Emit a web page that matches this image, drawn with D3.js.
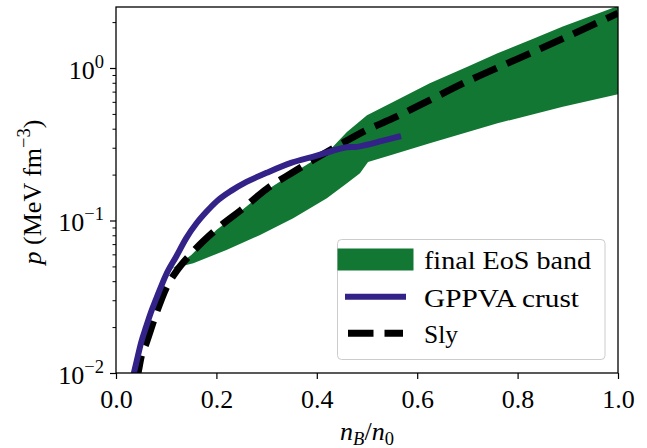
<!DOCTYPE html>
<html><head><meta charset="utf-8">
<script src="https://cdn.jsdelivr.net/npm/d3@7"></script>
<style>
body{margin:0;background:#fff;}
svg{display:block;}
svg text{font-family:"Liberation Serif","Times New Roman",serif !important;fill:#000;}
</style></head><body>
<svg id="chart" width="647" height="448"></svg>
<script>
// ---- data ----
const xTicks = [0, 0.2, 0.4, 0.6, 0.8, 1.0];
const yMajorTicks = [0.01, 0.1, 1];
const yMajorExps = ["\u22122", "\u22121", "0"];
const seriesNames = ["final EoS band", "GPPVA crust", "Sly"];

const nSly = [0.040,0.044,0.05,0.06,0.08,0.10,0.12,0.15,0.20,0.25,0.30,0.35,0.40,0.45,0.50,0.55,0.60,0.70,0.80,0.90,1.00];
const pSly = [0.0089,0.0100,0.0127,0.0156,0.0245,0.0361,0.0463,0.0608,0.0876,0.1178,0.161,0.205,0.2576,0.320,0.393,0.465,0.560,0.818,1.148,1.614,2.29];

const nCrust = [0.033,0.04,0.05,0.06,0.07,0.08,0.10,0.12,0.14,0.16,0.18,0.20,0.23,0.26,0.30,0.35,0.40,0.44,0.46,0.48,0.50,0.53,0.562];
const pCrust = [0.0092,0.0115,0.0158,0.0201,0.0252,0.0306,0.0443,0.0581,0.0767,0.0955,0.1140,0.133,0.157,0.179,0.2053,0.2394,0.266,0.292,0.302,0.304,0.314,0.333,0.354];

const nBandHi = [0.108,0.13,0.15,0.20,0.25,0.30,0.35,0.40,0.426,0.46,0.50,0.55,0.625,0.70,0.76,0.83,0.89,1.0];
const pBandHi = [0.0475,0.053,0.0595,0.0865,0.1165,0.158,0.202,0.255,0.29,0.38,0.49,0.595,0.794,1.02,1.25,1.55,1.87,2.55];

const nBandLo = [0.108,0.114,0.154,0.22,0.287,0.353,0.42,0.46,0.486,0.502,0.55,0.625,0.76,0.89,1.0];
const pBandLo = [0.0475,0.0486,0.0524,0.0641,0.0804,0.1034,0.1398,0.1754,0.204,0.242,0.270,0.321,0.434,0.557,0.672];

const colBand = "#117733", colCrust = "#332288", colSly = "#000000";

// ---- layout ----
const svg = d3.select("#chart");
const FONT = '"Liberation Serif","Times New Roman",serif';
const X0 = 116, X1 = 618, Y0 = 373, Y1 = 7;
const x = d3.scaleLinear().domain([0, 1]).range([X0, X1]);
const y = d3.scaleLog().domain([0.01, 2.512]).range([Y0, Y1]);

svg.append("defs").append("clipPath").attr("id", "clip")
  .append("rect").attr("x", X0).attr("y", Y1).attr("width", X1 - X0).attr("height", Y0 - Y1);

const plot = svg.append("g").attr("clip-path", "url(#clip)");

const zip = (a, b) => a.map((v, i) => [v, b[i]]);
const line = d3.line().x(d => x(d[0])).y(d => y(d[1])).curve(d3.curveMonotoneX);
const lineLin = d3.line().x(d => x(d[0])).y(d => y(d[1]));

// band polygon: upper edge left->right, lower edge right->left
const hi = zip(nBandHi, pBandHi);
const lo = zip(nBandLo, pBandLo).reverse();
const bandPath = lineLin(hi) + "L" + lineLin(lo).slice(1) + "Z";
plot.append("path").attr("d", bandPath).attr("fill", colBand).attr("stroke", "none");

plot.append("path").attr("d", line(zip(nSly, pSly)))
  .attr("fill", "none").attr("stroke", colSly).attr("stroke-width", 6.9)
  .attr("stroke-dasharray", "25.5,11");

plot.append("path").attr("d", line(zip(nCrust, pCrust)))
  .attr("fill", "none").attr("stroke", colCrust).attr("stroke-width", 6)
  .attr("stroke-linecap", "square");

// ---- axes ----
const FS = 26;
const xAxis = svg.append("g").attr("transform", `translate(0,${Y0})`)
  .call(d3.axisBottom(x).tickValues(xTicks).tickSize(6).tickPadding(0).tickFormat(d3.format(".1f")));
xAxis.attr("font-family", FONT);
xAxis.select(".domain").remove();
xAxis.selectAll(".tick line").attr("stroke", "#000").attr("stroke-width", 1.2);
xAxis.selectAll(".tick text").attr("font-size", FS).attr("dy", null).attr("y", 34.5)
  .style("font-family", FONT);

const minor = [];
[0.01, 0.1, 1].forEach(d => { for (let k = 2; k <= 9; k++) { if (k * d <= 2.512) minor.push(k * d); } });
const yMinor = svg.append("g").attr("transform", `translate(${X0},0)`)
  .call(d3.axisLeft(y).tickValues(minor).tickSize(3.5).tickFormat(""));
yMinor.select(".domain").remove();
yMinor.selectAll(".tick line").attr("stroke", "#000").attr("stroke-width", 1);

const yAxis = svg.append("g").attr("transform", `translate(${X0},0)`)
  .call(d3.axisLeft(y).tickValues(yMajorTicks).tickSize(6).tickFormat(""));
yAxis.attr("font-family", FONT);
yAxis.select(".domain").remove();
yAxis.selectAll(".tick line").attr("stroke", "#000").attr("stroke-width", 1.2);
yAxis.selectAll(".tick").each(function(d, i) {
  const t = d3.select(this).append("text").attr("x", -12).attr("y", 10)
    .attr("text-anchor", "end").attr("font-size", FS).attr("fill", "#000")
    .style("font-family", FONT);
  t.append("tspan").text("10");
  t.append("tspan").attr("dy", -11).attr("font-size", 18.5).text(yMajorExps[i]);
});

// frame
svg.append("rect").attr("x", X0).attr("y", Y1).attr("width", X1 - X0).attr("height", Y0 - Y1)
  .attr("fill", "none").attr("stroke", "#000").attr("stroke-width", 1.3);

// axis labels
const xl = svg.append("text").attr("x", (X0 + X1) / 2).attr("y", 440)
  .attr("text-anchor", "middle").attr("font-size", FS).style("font-family", FONT);
xl.append("tspan").attr("font-style", "italic").text("n");
xl.append("tspan").attr("font-style", "italic").attr("font-size", 18.5).attr("dy", 5).text("B");
xl.append("tspan").attr("dy", -5).text("/");
xl.append("tspan").attr("font-style", "italic").text("n");
xl.append("tspan").attr("font-size", 18.5).attr("dy", 5).text("0");

const yl = svg.append("text").attr("transform", `translate(41,${(Y0 + Y1) / 2 + 2}) rotate(-90)`)
  .attr("text-anchor", "middle").attr("font-size", FS).style("font-family", FONT);
yl.append("tspan").attr("font-style", "italic").text("p");
yl.append("tspan").text(" (MeV fm");
yl.append("tspan").attr("dy", -11).attr("font-size", 18.5).text("\u22123");
yl.append("tspan").attr("dy", 11).text(")");

// ---- legend ----
const lg = svg.append("g");
lg.append("rect").attr("x", 337.5).attr("y", 239.5).attr("width", 267.5).attr("height", 120)
  .attr("rx", 4).attr("fill", "#fff").attr("fill-opacity", 0.8)
  .attr("stroke", "#cccccc").attr("stroke-width", 1);
lg.append("rect").attr("x", 337.5).attr("y", 248.5).attr("width", 76).attr("height", 22)
  .attr("fill", colBand);
lg.append("line").attr("x1", 348).attr("x2", 403).attr("y1", 296.7).attr("y2", 296.7)
  .attr("stroke", colCrust).attr("stroke-width", 6).attr("stroke-linecap", "square");
lg.append("line").attr("x1", 348).attr("x2", 403).attr("y1", 333.3).attr("y2", 333.3)
  .attr("stroke", colSly).attr("stroke-width", 6.9).attr("stroke-dasharray", "25.5,11");
const lgY = [268.5, 306.5, 343];
const lgW = [167, 155, 34];
seriesNames.forEach((s, i) => {
  lg.append("text").attr("x", 424).attr("y", lgY[i]).attr("font-size", FS)
    .style("font-family", FONT)
    .attr("textLength", lgW[i]).attr("lengthAdjust", "spacingAndGlyphs").text(s);
});
</script>
</body></html>
